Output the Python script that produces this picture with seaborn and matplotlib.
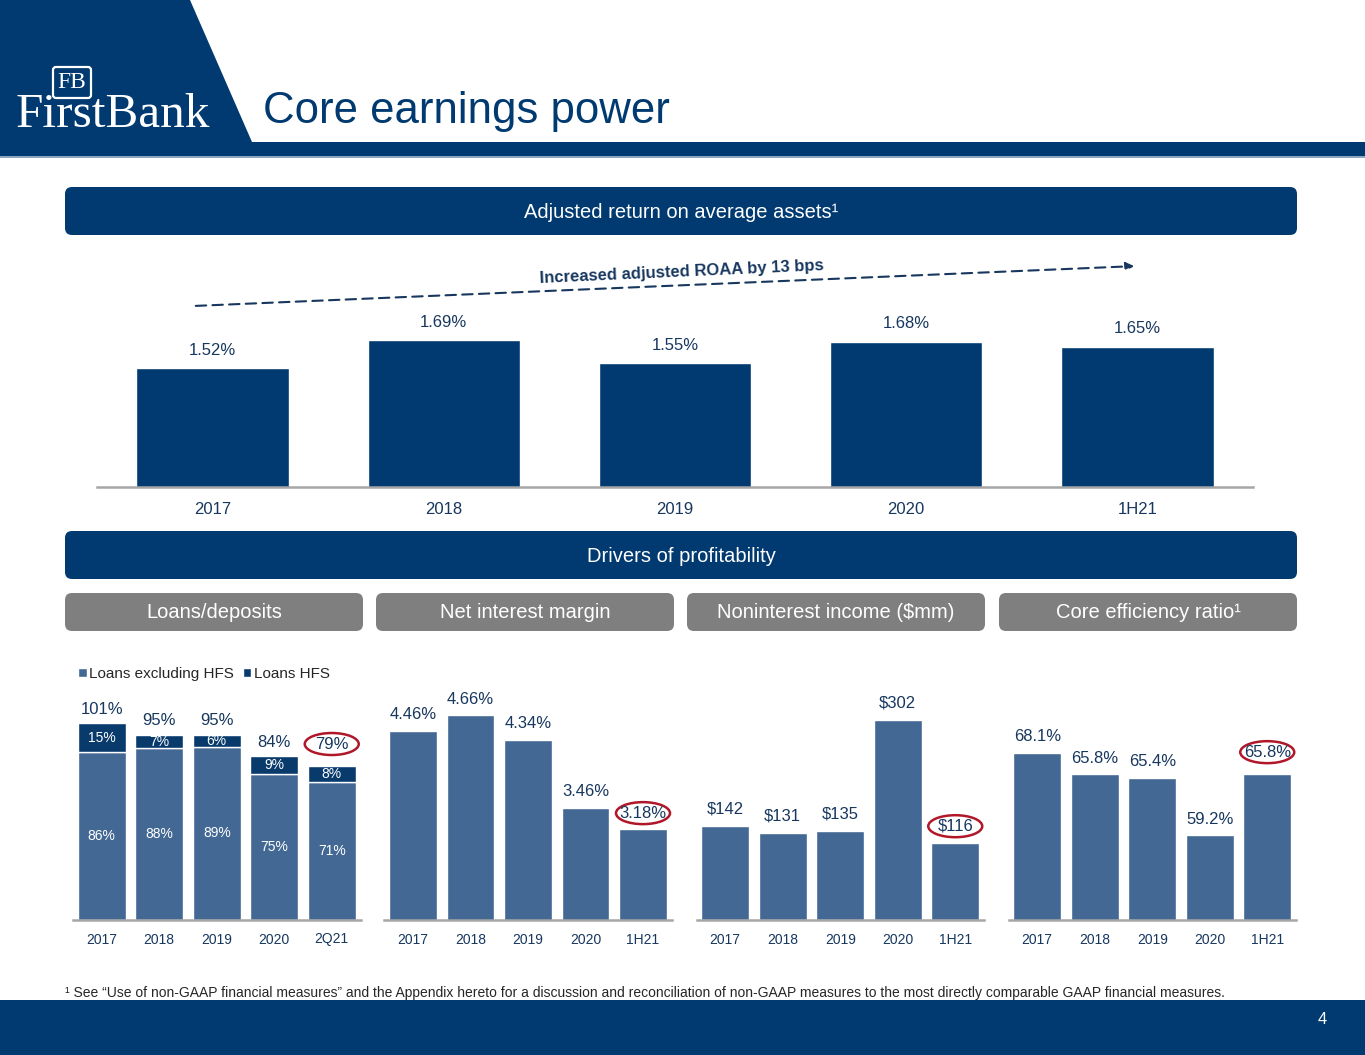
import numpy as np
import pandas as pd
import seaborn as sns
import matplotlib.pyplot as plt
from matplotlib.patches import FancyBboxPatch, Polygon, Rectangle, Ellipse

# Data
roaa_years = ["2017", "2018", "2019", "2020", "1H21"]
roaa = [1.52, 1.69, 1.55, 1.68, 1.65]

ld_years = ["2017", "2018", "2019", "2020", "2Q21"]
loans_ex_hfs = [86, 88, 89, 75, 71]
loans_hfs = [15, 7, 6, 9, 8]
ld_total = [101, 95, 95, 84, 79]

nim_years = ["2017", "2018", "2019", "2020", "1H21"]
nim = [4.46, 4.66, 4.34, 3.46, 3.18]

nii_years = ["2017", "2018", "2019", "2020", "1H21"]
nii = [142, 131, 135, 302, 116]

eff_years = ["2017", "2018", "2019", "2020", "1H21"]
eff = [68.1, 65.8, 65.4, 59.2, 65.8]

NAVY = "#003a70"
STEEL = "#426893"
DARK_HFS = "#083a6c"
TEXT = "#17375e"
GREY_BOX = "#7f7f7f"
AXIS_GREY = "#a6a6a6"
RED = "#b0182a"

sns.set_theme(style="white")
plt.rcParams['font.family'] = ['Liberation Sans', 'DejaVu Sans']

W, H = 1365, 1055
fig = plt.figure(figsize=(W / 100, H / 100), dpi=100)


def px_axes(left, top, width, height, **kw):
    return fig.add_axes([left / W, 1 - (top + height) / H, width / W, height / H], **kw)


# background layer in pixel coordinates
bg = px_axes(0, 0, W, H, zorder=0)
bg.set_xlim(0, W)
bg.set_ylim(H, 0)
bg.axis("off")

# header
bg.add_patch(Polygon([(0, 0), (190, 0), (252, 142), (0, 142)], closed=True, color=NAVY, lw=0))
bg.add_patch(Rectangle((0, 142), W, 14, color=NAVY, lw=0))
bg.add_patch(Rectangle((0, 156), W, 2, color="#8fa6bf", lw=0))
bg.text(263, 111, "Core earnings power", color=NAVY, fontsize=31.5, va="center", ha="left")
bg.add_patch(FancyBboxPatch((53, 67), 38, 31, boxstyle="round,pad=0,rounding_size=3",
                            fc=NAVY, ec="white", lw=1.6))
bg.text(72, 83, "FB", color="white", fontsize=17, family=["Liberation Serif", "DejaVu Serif"],
        ha="center", va="center")
bg.text(113, 115, "FirstBank", color="white", fontsize=35.5, family=["Liberation Serif", "DejaVu Serif"],
        ha="center", va="center")

# footer
bg.add_patch(Rectangle((0, 1000), W, 55, color=NAVY, lw=0))
bg.text(1322, 1020, "4", color="white", fontsize=12, ha="center", va="center")
bg.text(65, 993, "¹ See “Use of non-GAAP financial measures” and the Appendix hereto for a discussion and "
        "reconciliation of non-GAAP measures to the most directly comparable GAAP financial measures.",
        color="#262626", fontsize=10, ha="left", va="center")


def banner(x, y, w, h, label, color):
    bg.add_patch(FancyBboxPatch((x, y), w, h, boxstyle="round,pad=0,rounding_size=7",
                                fc=color, ec="none"))
    bg.text(x + w / 2, y + h / 2 + 1, label, color="white", fontsize=14.5, ha="center", va="center")


banner(65, 187, 1232, 48, "Adjusted return on average assets¹", NAVY)
banner(65, 531, 1232, 48, "Drivers of profitability", NAVY)
banner(65, 593, 298, 38, "Loans/deposits", GREY_BOX)
banner(376, 593, 298, 38, "Net interest margin", GREY_BOX)
banner(687, 593, 298, 38, "Noninterest income ($mm)", GREY_BOX)
banner(999, 593, 298, 38, "Core efficiency ratio¹", GREY_BOX)


def style_axes(ax, ylim, tick_size):
    ax.set_ylim(*ylim)
    ax.set_xlim(-0.5, 4.5)
    ax.set_yticks([])
    ax.set_xlabel("")
    ax.set_ylabel("")
    for s in ["top", "right", "left"]:
        ax.spines[s].set_visible(False)
    ax.spines["bottom"].set_color(AXIS_GREY)
    ax.spines["bottom"].set_linewidth(1.8)
    ax.tick_params(axis="x", length=0, labelsize=tick_size, labelcolor=TEXT, pad=9)
    ax.patch.set_alpha(0)


def label(ax, i, v, txt, lift_px=16, size=12, ring=False):
    # value label centred lift_px above the bar top; optional red ring around it
    ax.annotate(txt, (i, v), xytext=(0, lift_px * 0.72), textcoords="offset points",
                ha="center", va="center", color=TEXT, fontsize=size, zorder=6)
    if ring:
        xd, yd = ax.transData.transform((i, v))
        xp, yp = bg.transData.inverted().transform((xd, yd + lift_px))
        bg.add_patch(Ellipse((xp, yp), 54, 22, fill=False, ec=RED, lw=1.8, zorder=5))


# top chart: adjusted ROAA
ax0 = px_axes(97, 255, 1156, 232)
df0 = pd.DataFrame({"year": roaa_years, "roaa": roaa})
sns.barplot(data=df0, x="year", y="roaa", color=NAVY, saturation=1, width=0.66, ax=ax0)
style_axes(ax0, (0.8, 0.8 + 232 / 165), 12)
ax0.tick_params(axis="x", pad=11)
for i, v in enumerate(roaa):
    label(ax0, i, v, f"{v:.2f}%", lift_px=18, size=12)

# trend arrow
ax0.annotate("", xy=(1137, 266), xytext=(193, 306), xycoords=bg.transData, textcoords=bg.transData,
             arrowprops=dict(arrowstyle="-|>", color=TEXT, lw=1.5, ls=(0, (5, 3)), mutation_scale=12))
bg.text(682, 272, "Increased adjusted ROAA by 13 bps", color=TEXT, fontsize=12, fontweight="bold",
        rotation=2.6, ha="center", va="center", rotation_mode="anchor")

# Loans/deposits stacked
ax1 = px_axes(73, 690, 287.5, 230)
df1 = pd.DataFrame({"year": ld_years, "ex": loans_ex_hfs, "hfs": loans_hfs})
ax1.bar(df1["year"], df1["ex"], width=0.83, color=STEEL, label="Loans excluding HFS")
ax1.bar(df1["year"], df1["hfs"], bottom=df1["ex"], width=0.83, color=DARK_HFS, label="Loans HFS")
style_axes(ax1, (0, 118), 10)
for i in range(5):
    ax1.text(i, loans_ex_hfs[i] / 2, f"{loans_ex_hfs[i]}%", ha="center", va="center",
             color="white", fontsize=10)
    ax1.text(i, loans_ex_hfs[i] + loans_hfs[i] / 2, f"{loans_hfs[i]}%", ha="center", va="center",
             color="white", fontsize=10)
    last = i == 4
    label(ax1, i, ld_total[i], f"{ld_total[i]}%", lift_px=22 if last else 14, ring=last)
leg = ax1.legend(loc="upper left", bbox_to_anchor=(-0.03, 1.16), ncol=2, frameon=False, fontsize=11,
                 handlelength=0.55, handleheight=0.55, handletextpad=0.15, columnspacing=0.6)
for t in leg.get_texts():
    t.set_color("#262626")

# Net interest margin
ax2 = px_axes(384.25, 690, 287.5, 230)
sns.barplot(x=nim_years, y=nim, color=STEEL, saturation=1, width=0.83, ax=ax2)
style_axes(ax2, (2.0, 2.0 + 230 / 77), 10)
for i, v in enumerate(nim):
    label(ax2, i, v, f"{v:.2f}%", ring=(i == 4))

# Noninterest income
ax3 = px_axes(696.5, 690, 287.5, 230)
sns.barplot(x=nii_years, y=nii, color=STEEL, saturation=1, width=0.83, ax=ax3)
style_axes(ax3, (0, 230 / 0.662), 10)
for i, v in enumerate(nii):
    label(ax3, i, v, f"${v}", lift_px=17, ring=(i == 4))

# Core efficiency ratio
ax4 = px_axes(1008.5, 690, 287.5, 230)
sns.barplot(x=eff_years, y=eff, color=STEEL, saturation=1, width=0.83, ax=ax4)
style_axes(ax4, (50, 50 + 230 / 9.23), 10)
for i, v in enumerate(eff):
    last = i == 4
    label(ax4, i, v, f"{v:.1f}%", lift_px=22 if last else 16, ring=last)

fig.savefig("out.png", dpi=100)
